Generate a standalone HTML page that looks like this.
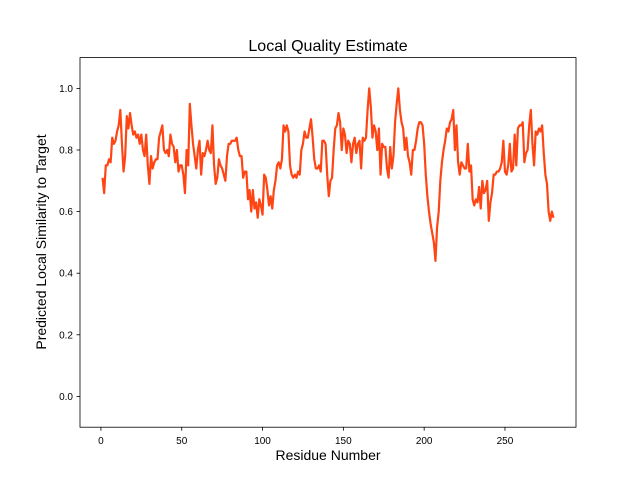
<!DOCTYPE html>
<html><head><meta charset="utf-8"><style>
body{margin:0;background:#fff;font-family:"Liberation Sans","DejaVu Sans",sans-serif;}
svg{display:block}
</style></head><body>
<svg id="chart" width="640" height="480" xmlns="http://www.w3.org/2000/svg">
<rect width="640" height="480" fill="#fff"/>
<text x="328" y="51" font-size="16" text-anchor="middle">Local Quality Estimate</text>
<text x="328" y="460" font-size="14" text-anchor="middle">Residue Number</text>
<text transform="translate(46,242) rotate(-90)" font-size="14" text-anchor="middle">Predicted Local Similarity to Target</text>
<g id="ticks"></g>
<path id="line" fill="none" stroke="#ff4513" stroke-width="2.2" stroke-linejoin="round"/>
<rect x="80" y="57.6" width="496" height="369.6" fill="none" stroke="#000" stroke-width="0.8"/>
</svg>
<script>
const xTicks=[0,50,100,150,200,250];
const yTicks=[0.0,0.2,0.4,0.6,0.8,1.0];
const scores=[0.71,0.66,0.75,0.75,0.77,0.76,0.84,0.82,0.83,0.86,
0.88,0.93,0.82,0.73,0.78,0.91,0.87,0.92,0.88,0.85,
0.86,0.84,0.85,0.82,0.85,0.80,0.78,0.85,0.75,0.69,
0.78,0.74,0.76,0.77,0.77,0.84,0.86,0.88,0.80,0.79,
0.80,0.78,0.85,0.82,0.81,0.76,0.80,0.73,0.75,0.75,
0.72,0.66,0.80,0.75,0.95,0.88,0.82,0.78,0.74,0.80,
0.83,0.72,0.79,0.78,0.80,0.83,0.80,0.79,0.88,0.75,
0.69,0.71,0.77,0.75,0.74,0.72,0.70,0.78,0.82,0.82,
0.83,0.83,0.83,0.84,0.80,0.78,0.78,0.71,0.73,0.73,
0.64,0.67,0.60,0.67,0.61,0.63,0.58,0.64,0.62,0.59,
0.72,0.71,0.67,0.62,0.65,0.61,0.67,0.70,0.75,0.76,
0.74,0.77,0.88,0.86,0.88,0.86,0.75,0.72,0.71,0.72,
0.71,0.73,0.72,0.80,0.82,0.86,0.84,0.84,0.87,0.90,
0.84,0.77,0.74,0.74,0.75,0.73,0.83,0.83,0.82,0.72,
0.65,0.70,0.71,0.80,0.87,0.88,0.92,0.89,0.80,0.87,
0.85,0.79,0.83,0.82,0.76,0.82,0.84,0.79,0.82,0.83,
0.74,0.84,0.83,0.84,0.93,1.00,0.94,0.84,0.88,0.86,
0.80,0.87,0.72,0.82,0.81,0.81,0.74,0.71,0.81,0.74,
0.78,0.89,0.95,1.00,0.93,0.89,0.87,0.80,0.84,0.78,
0.76,0.72,0.80,0.80,0.83,0.87,0.89,0.89,0.88,0.82,
0.72,0.65,0.60,0.56,0.53,0.50,0.44,0.55,0.60,0.70,
0.76,0.80,0.83,0.87,0.86,0.89,0.90,0.93,0.80,0.88,
0.76,0.72,0.76,0.75,0.74,0.74,0.82,0.73,0.75,0.64,
0.62,0.64,0.63,0.68,0.61,0.70,0.66,0.67,0.70,0.57,
0.63,0.66,0.72,0.72,0.73,0.73,0.74,0.76,0.83,0.73,
0.72,0.75,0.82,0.73,0.74,0.85,0.75,0.87,0.88,0.88,
0.89,0.76,0.79,0.80,0.88,0.93,0.82,0.75,0.86,0.85,
0.87,0.86,0.88,0.79,0.72,0.69,0.60,0.57,0.60,0.58];
const NS="http://www.w3.org/2000/svg";
const L=80,R=576,T=57.6,B=427.2;
const n=scores.length;
const xmin=1-(n-1)*0.05,xmax=n+(n-1)*0.05;
const ymin=-0.1,ymax=1.1;
function xs(v){return L+(v-xmin)/(xmax-xmin)*(R-L);}
function ys(v){return B-(v-ymin)/(ymax-ymin)*(B-T);}
const g=document.getElementById('ticks');
function mk(tag,attrs){const e=document.createElementNS(NS,tag);for(const k in attrs)e.setAttribute(k,attrs[k]);return e;}
xTicks.forEach(t=>{
  const x=xs(t);
  const l=mk('line',{x1:x,x2:x,y1:B,y2:B+3.5,stroke:'#000','stroke-width':0.8});
  
  
  g.appendChild(l);
  const tx=mk('text',{x:x,y:B+17,'font-size':10,'text-anchor':'middle'});
  tx.textContent=String(t);
  
  
  g.appendChild(tx);
});
yTicks.forEach(t=>{
  const y=ys(t);
  const l=mk('line',{x1:L-3.5,x2:L,y1:y,y2:y,stroke:'#000','stroke-width':0.8});
  
  
  g.appendChild(l);
  const tx=mk('text',{x:L-7,y:y+3.5,'font-size':10,'text-anchor':'end'});
  tx.textContent=t.toFixed(1);
  
  
  g.appendChild(tx);
});
let d='';
scores.forEach((v,i)=>{d+=(i?'L':'M')+xs(i+1).toFixed(2)+','+ys(v).toFixed(2);});
document.getElementById('line').setAttribute('d',d);
</script>
</body></html>
